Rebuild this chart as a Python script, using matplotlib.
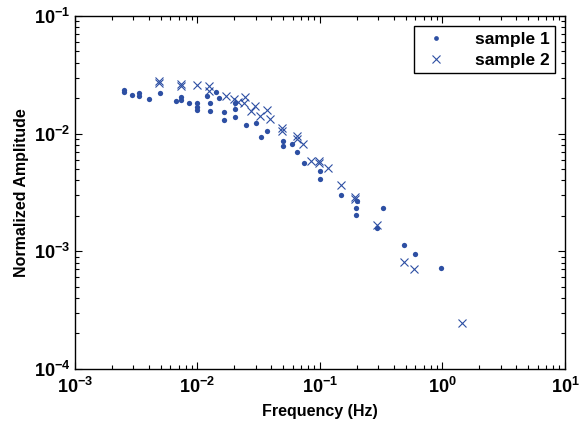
"""
Normalized amplitude vs frequency for two samples (log-log scatter).
"""
import math

import matplotlib
matplotlib.use("Agg")
import matplotlib.pyplot as plt
from matplotlib.ticker import LogLocator, FuncFormatter

# sample 1 (dots)
freq_1 = [0.0025, 0.0025, 0.00292, 0.00331, 0.00331, 0.00402, 0.00494, 0.00667,
          0.00738, 0.00738, 0.00858, 0.0099, 0.0099, 0.0099, 0.0120, 0.01257,
          0.01257, 0.01422, 0.0149, 0.01644, 0.01644, 0.0201, 0.0201, 0.0201,
          0.0247, 0.0298, 0.0332, 0.0369, 0.0496, 0.0496, 0.0587, 0.0653,
          0.0739, 0.100, 0.100, 0.148, 0.200, 0.197, 0.197, 0.327, 0.294,
          0.488, 0.592, 0.977]
amp_1 = [0.0235, 0.0226, 0.0213, 0.0223, 0.0209, 0.0196, 0.0222, 0.0188,
         0.0204, 0.0193, 0.0181, 0.0181, 0.0169, 0.0159, 0.0209, 0.0181,
         0.0157, 0.0226, 0.0200, 0.0153, 0.0131, 0.0181, 0.0163, 0.0138,
         0.01178, 0.01225, 0.00944, 0.0106, 0.00873, 0.00787, 0.00818, 0.00695,
         0.00568, 0.00485, 0.00415, 0.00301, 0.00268, 0.00235, 0.00204, 0.00235,
         0.00157, 0.00113, 0.000944, 0.000727]

# sample 2 (crosses)
freq_2 = [0.00488, 0.00488, 0.0073, 0.0073, 0.00985, 0.0124, 0.0124, 0.0171,
          0.0197, 0.0214, 0.0244, 0.0240, 0.0274, 0.0297, 0.0322, 0.0367,
          0.0388, 0.0490, 0.0490, 0.0653, 0.0653, 0.0731, 0.0840, 0.0987,
          0.0987, 0.117, 0.1475, 0.194, 0.194, 0.29, 0.485, 0.58, 1.456]
amp_2 = [0.0282, 0.0271, 0.0264, 0.0254, 0.0259, 0.0254, 0.0232, 0.0210,
         0.0197, 0.0187, 0.0204, 0.0183, 0.0157, 0.0172, 0.0141, 0.0159,
         0.01324, 0.0111, 0.0106, 0.00955, 0.00896, 0.00818, 0.00583, 0.0059,
         0.00561, 0.00514, 0.00366, 0.00292, 0.00277, 0.00167, 0.000807, 0.000708,
         0.000245]

COLOR = "#2d4fa3"

plt.rcParams["font.family"] = ["Liberation Sans", "DejaVu Sans"]
plt.rcParams["font.weight"] = "bold"
plt.rcParams["mathtext.fontset"] = "custom"
plt.rcParams["mathtext.bf"] = "Liberation Sans:bold"
plt.rcParams["mathtext.rm"] = "Liberation Sans:bold"
plt.rcParams["mathtext.default"] = "bf"


def _pow_label(v, _pos):
    e = int(round(math.log10(v)))
    return r"$10^{%d}$" % e


def main() -> None:
    fig = plt.figure(figsize=(5.79, 4.23), dpi=100)
    ax = fig.add_axes([0.1295, 0.128, 0.8463, 0.834])

    ax.plot(freq_1, amp_1, linestyle="none", marker="o", markersize=3.8,
            color=COLOR, markeredgewidth=0, label="sample 1")
    ax.plot(freq_2, amp_2, linestyle="none", marker="x", markersize=6,
            color=COLOR, markeredgewidth=0.8, label="sample 2")

    ax.set_xscale("log")
    ax.set_yscale("log")
    ax.set_xlim(1e-3, 1e1)
    ax.set_ylim(1e-4, 1e-1)

    for axis in (ax.xaxis, ax.yaxis):
        axis.set_major_locator(LogLocator(base=10, numticks=10))
        axis.set_minor_locator(LogLocator(base=10, subs=range(2, 10), numticks=20))
        axis.set_major_formatter(FuncFormatter(_pow_label))

    ax.tick_params(which="both", direction="in", top=True, right=True,
                   labelsize=13, width=0.8)
    ax.tick_params(which="major", length=5)
    ax.tick_params(which="minor", length=3)
    ax.tick_params(axis="x", pad=6)
    for sp in ax.spines.values():
        sp.set_linewidth(1.0)

    ax.set_xlabel("Frequency (Hz)", fontsize=11.5, fontweight="bold", labelpad=5)
    ax.set_ylabel("Normalized Amplitude", fontsize=11.5, fontweight="bold", labelpad=3)

    leg = ax.legend(loc="upper right", fontsize=12.5, frameon=True, fancybox=False,
                    edgecolor="black", framealpha=1, borderaxespad=0.6,
                    handletextpad=1.2, borderpad=0.3, labelspacing=0.35,
                    handlelength=2.0, markerscale=0.9)
    leg.get_frame().set_linewidth(1.0)

    fig.savefig("out.png", dpi=100)


if __name__ == "__main__":
    main()
